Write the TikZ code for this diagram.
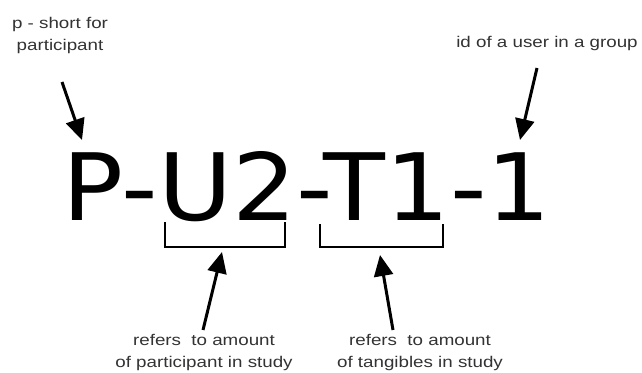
\documentclass[tikz,border=0pt]{standalone}
\usepackage{fontspec}
\usetikzlibrary{arrows.meta}
\newfontfamily\lblfont[FakeStretch=1.21]{Liberation Sans}
\newfontfamily\codefont[FakeStretch=1.089]{DejaVu Sans}
\definecolor{lblgray}{HTML}{333333}
\begin{document}
\begin{tikzpicture}[x=1pt,y=-1pt,
  lbl/.style={font=\lblfont\fontsize{15.5}{22}\selectfont, text=lblgray, inner sep=0pt, align=center},
  arr/.style={line width=3pt, -{Triangle[length=21pt,width=19pt]}},
  brk/.style={line width=2.5pt}]
\useasboundingbox (0,0) rectangle (642,372);
\fill[white] (0,0) rectangle (642,372);
% main code
\node[font=\codefont\fontsize{93}{93}\selectfont, inner sep=0pt, anchor=base west] (code) at (62.5,220) {P-U2-T1-1};
% labels (base = baseline of last line)
\node[lbl, anchor=base] (pnote) at (60,50) {p - short for\\participant};
\node[lbl, anchor=base] (idnote) at (547,47) {id of a user in a group};
\node[lbl, anchor=base] (unote) at (204,367) {refers~ to amount\\of participant in study};
\node[lbl, anchor=base] (tnote) at (420,367) {refers~ to amount\\of tangibles in study};
% arrow ends
\coordinate (pA) at (62,82);   \coordinate (pB) at (82,140);
\coordinate (iA) at (537,68);  \coordinate (iB) at (520,140);
\coordinate (uA) at (203,330); \coordinate (uB) at (222,252);
\coordinate (tA) at (393,330); \coordinate (tB) at (380,255);
\draw[arr] (pA) -- (pB);
\draw[arr] (iA) -- (iB);
\draw[arr] (uA) -- (uB);
\draw[arr] (tA) -- (tB);
% brackets
\coordinate (u1) at (165,222); \coordinate (u2) at (285,247);
\coordinate (t1) at (320,224); \coordinate (t2) at (443,247);
\draw[brk] (u1) |- (u2) -- (u2 |- u1);
\draw[brk] (t1) |- (t2) -- (t2 |- t1);
\end{tikzpicture}
\end{document}
